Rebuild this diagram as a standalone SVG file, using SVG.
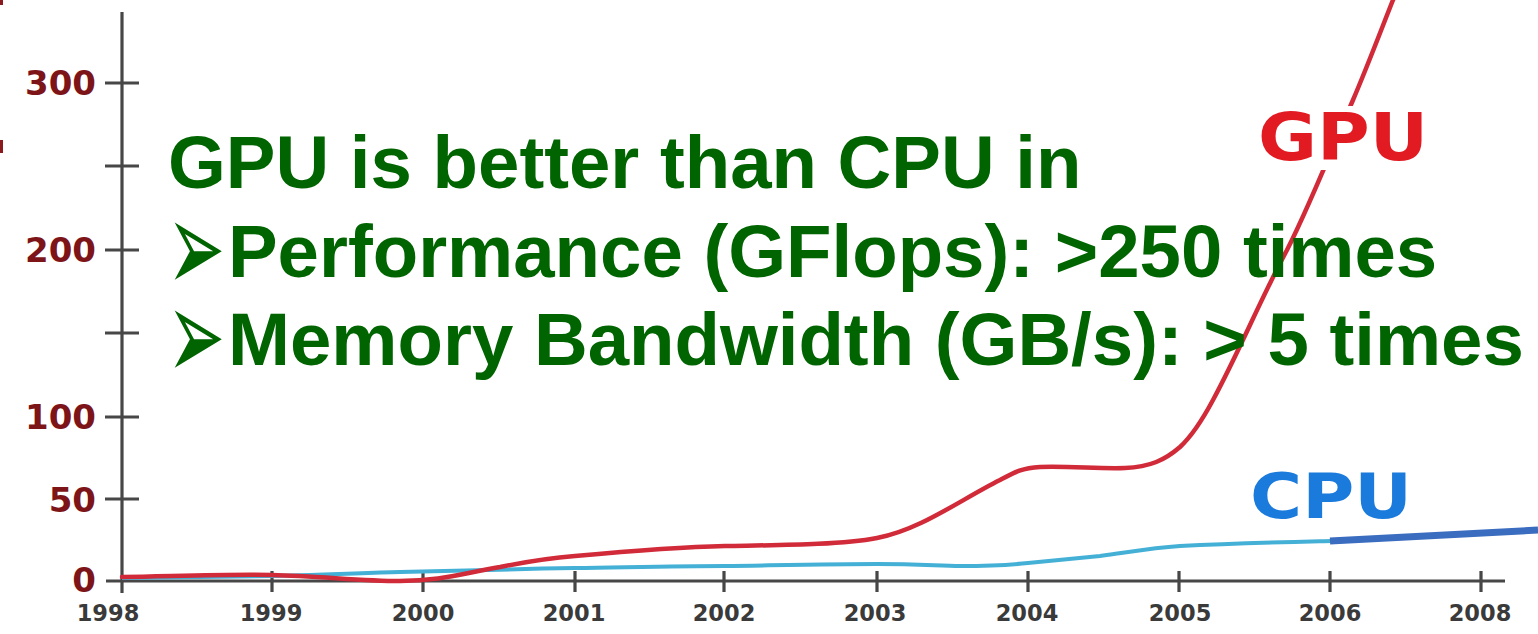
<svg xmlns="http://www.w3.org/2000/svg" width="1538" height="634" viewBox="0 0 1538 634">
<style>
.axis{stroke:#474747;stroke-width:3.2;fill:none}
.ylab{font-family:"DejaVu Sans",Verdana,sans-serif;font-weight:bold;font-size:34px;fill:#7d1418;text-anchor:end}
.xlab{font-family:"DejaVu Sans",Verdana,sans-serif;font-weight:bold;font-size:22.5px;fill:#3a3a3a;text-anchor:middle}
.gpu{fill:none;stroke:#d12a38;stroke-width:4.5;stroke-linejoin:round;stroke-linecap:round}
.cpu{fill:none;stroke:#44b0d6;stroke-width:4;stroke-linejoin:round}
.cpu2{fill:none;stroke:#3a6cbf;stroke-width:7}
.main{font-family:"Liberation Sans",Arial,sans-serif;font-weight:bold;font-size:74.4px;fill:#006400}
.bul{font-family:"DejaVu Sans",sans-serif;font-weight:normal;font-size:62px;fill:#006400}
</style>
<rect width="1538" height="634" fill="#ffffff"/>
<rect x="0" y="0" width="3" height="5" fill="#8a1a1e"/>
<rect x="0" y="140" width="3" height="13" fill="#8a1a1e"/>
<g id="axes">
<line class="axis" x1="122" y1="12" x2="122" y2="593"/>
<line class="axis" x1="106" y1="581" x2="1505" y2="581"/>
<path class="axis" d="M105,83H139M105,166H139M105,250H139M105,333H139M105,417H139M105,499H139"/>
<path class="axis" d="M272,571V592M423,571V592M575,571V592M724,571V592M877,571V592M1028,571V592M1179,571V592M1330,571V592M1481,571V592"/>
</g>
<g id="y-labels">
<text class="ylab" x="96" y="95">300</text>
<text class="ylab" x="96" y="262">200</text>
<text class="ylab" x="96" y="429">100</text>
<text class="ylab" x="96" y="512">50</text>
<text class="ylab" x="96" y="592">0</text>
</g>
<g id="x-labels">
<text class="xlab" x="108" y="621">1998</text>
<text class="xlab" x="271" y="621">1999</text>
<text class="xlab" x="423" y="621">2000</text>
<text class="xlab" x="574" y="621">2001</text>
<text class="xlab" x="724" y="621">2002</text>
<text class="xlab" x="875" y="621">2003</text>
<text class="xlab" x="1027" y="621">2004</text>
<text class="xlab" x="1180" y="621">2005</text>
<text class="xlab" x="1330" y="621">2006</text>
<text class="xlab" x="1480" y="621">2008</text>
</g>
<g id="connectors">
<path id="cpu-line" class="cpu" d="M122,578 C200,577 240,576 272,576 C330,575 360,573 400,572 C470,570 520,569 575,568 C640,567 680,566 725,566 C790,565 840,564 877,564 C920,564 940,566 960,566 C990,566 1010,565 1028,563 C1060,560 1080,558 1100,556 C1130,552 1150,548 1180,546 C1240,543 1290,542 1332,541"/>
<path id="cpu-line-2" class="cpu2" d="M1330,541 L1538,530"/>
<path id="gpu-line" class="gpu" d="M122,577 C180,576 230,574 272,575 C320,576 360,581 400,581 C440,581 460,574 500,567 C530,561 550,558 575,556 C630,551 680,547 725,546 C780,545 840,545 877,538 C920,530 960,500 1000,480 C1015,472 1022,468 1040,467 C1070,466 1100,469 1125,468 C1150,467 1165,460 1180,447 C1195,433 1205,415 1213,400 C1240,350 1260,300 1287,250 C1310,205 1340,130 1353,100 C1368,65 1383,25 1393,0 L1396,-6"/>
</g>
<g id="gpu-label">
<rect x="1254" y="106" width="182" height="64" fill="#ffffff"/>
<text x="1258" y="160" textLength="170" lengthAdjust="spacingAndGlyphs" style="font-family:'DejaVu Sans',Verdana,sans-serif;font-weight:bold;font-size:66px;fill:#e21a22">GPU</text>
</g>
<g id="cpu-label">
<text x="1250" y="518" textLength="162" lengthAdjust="spacingAndGlyphs" style="font-family:'DejaVu Sans',Verdana,sans-serif;font-weight:bold;font-size:63px;fill:#1b7bdc">CPU</text>
</g>
<g id="headline">
<text class="main" x="168" y="188">GPU is better than CPU in</text>
<text class="bul" transform="translate(167,292) scale(1.12,2.1)">➢</text>
<text class="main" x="228" y="277">Performance (GFlops): &gt;250 times</text>
<text class="bul" transform="translate(167,380) scale(1.12,2.1)">➢</text>
<text class="main" x="228" y="365">Memory Bandwidth (GB/s): &gt; 5 times</text>
</g>
</svg>
